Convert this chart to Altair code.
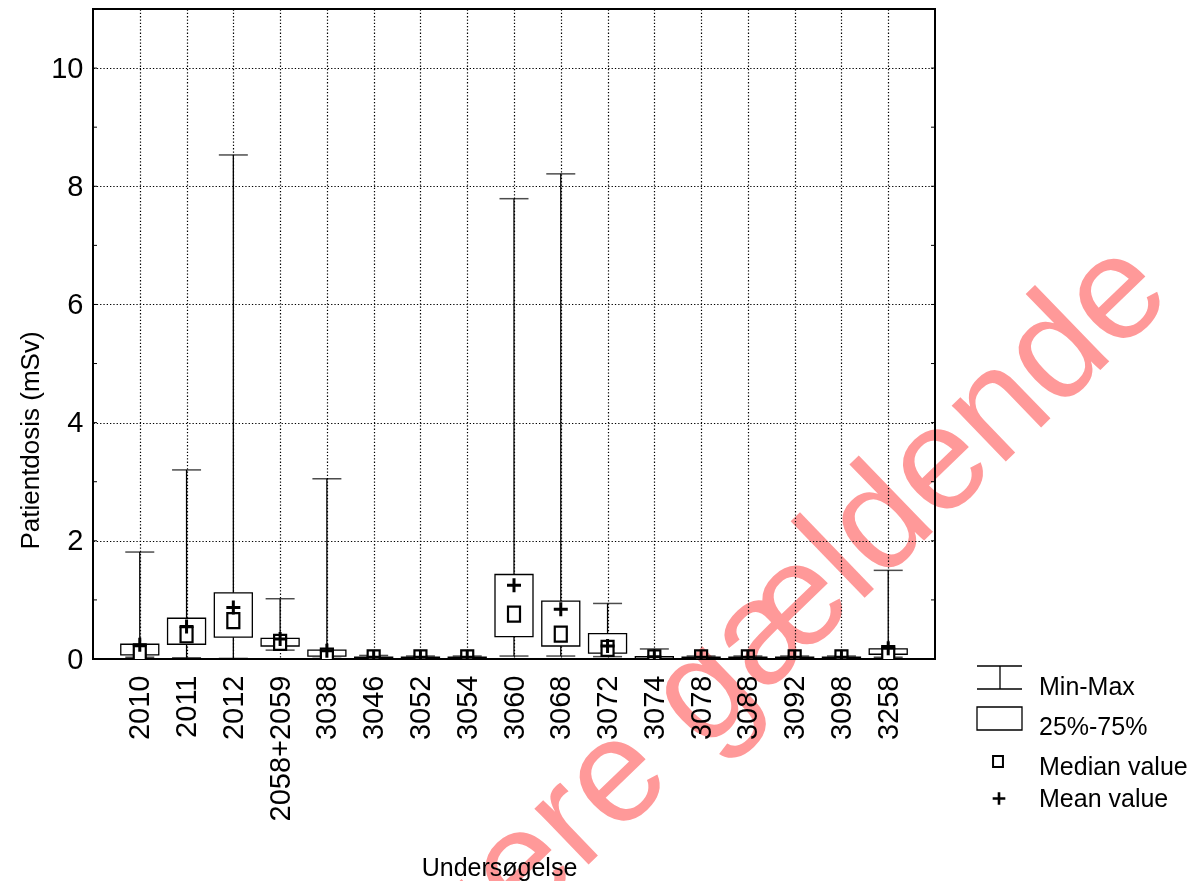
import altair as alt
import pandas as pd

categories = ["2010", "2011", "2012", "2058+2059", "3038", "3046", "3052", "3054",
              "3060", "3068", "3072", "3074", "3078", "3088", "3092", "3098", "3258"]
v_min = [0.03, 0.02, 0.01, 0.15, 0.01, 0.00, 0.00, 0.00, 0.05, 0.05, 0.04, 0.01, 0.00, 0.00, 0.00, 0.00, 0.03]
v_q1 = [0.07, 0.25, 0.37, 0.22, 0.05, 0.01, 0.01, 0.01, 0.38, 0.22, 0.10, 0.01, 0.01, 0.01, 0.01, 0.01, 0.08]
v_median = [0.09, 0.41, 0.65, 0.28, 0.05, 0.02, 0.02, 0.02, 0.76, 0.42, 0.18, 0.02, 0.02, 0.02, 0.02, 0.02, 0.09]
v_q3 = [0.25, 0.69, 1.12, 0.35, 0.15, 0.03, 0.03, 0.03, 1.43, 0.98, 0.43, 0.04, 0.03, 0.03, 0.03, 0.03, 0.17]
v_max = [1.81, 3.20, 8.53, 1.02, 3.05, 0.06, 0.05, 0.05, 7.79, 8.21, 0.94, 0.17, 0.05, 0.05, 0.05, 0.05, 1.50]
v_mean = [0.24, 0.55, 0.87, 0.34, 0.14, 0.03, 0.03, 0.03, 1.25, 0.84, 0.22, 0.04, 0.03, 0.03, 0.03, 0.03, 0.18]
y_label_values = [0, 2, 4, 6, 8, 10]
y_tick_values = [0, 1, 2, 3, 4, 5, 6, 7, 8, 9, 10, 11]
legend_labels = ["Min-Max", "25%-75%", "Median value", "Mean value"]
watermark_text = "Ikke længere gældende"

df = pd.DataFrame({"cat": categories, "vmin": v_min, "q1": v_q1, "median": v_median,
                   "q3": v_q3, "vmax": v_max, "mean": v_mean})

W, H = 842, 650
FONT = "Liberation Sans, Arial, sans-serif"

xscale = alt.Scale(type="point", padding=1, domain=categories)
yscale = alt.Scale(domain=[0, 11], nice=False, zero=False)

GRID = dict(grid=True, gridDash=[1.3, 2], gridColor="black", gridOpacity=1, gridWidth=1.2)

xaxis = alt.Axis(title="Undersøgelse", labelAngle=270, labelFontSize=29, labelFont=FONT,
                 labelColor="black", labelPadding=16, labelAlign="right", labelBaseline="middle",
                 labelOverlap=False, labelLimit=400, ticks=False, domain=False, **GRID,
                 titleFont=FONT, titleFontSize=25, titleFontWeight="normal", titleColor="black",
                 titleX=406, titleY=216, titleAlign="center", titleBaseline="alphabetic", titleAngle=0)
yaxis = alt.Axis(title="Patientdosis (mSv)", values=y_label_values, labelFontSize=29, labelFont=FONT,
                 labelColor="black", labelPadding=10, ticks=False, domain=False, **GRID,
                 titleFont=FONT, titleFontSize=26, titleFontWeight="normal", titleColor="black",
                 titleX=-55, titleY=431, titleAngle=270, titleAlign="center", titleBaseline="alphabetic")

X = alt.X("cat:N", scale=xscale, axis=xaxis, sort=categories)


def Y(field):
    return alt.Y(field + ":Q", scale=yscale, axis=yaxis)


base = alt.Chart(df)

whisker = base.mark_rule(color="black", strokeWidth=1.3).encode(x=X, y=Y("vmin"), y2="vmax:Q")
cap_max = base.mark_tick(color="black", size=29, thickness=1.5, orient="horizontal").encode(x=X, y=Y("vmax"))
cap_min = base.mark_tick(color="black", size=29, thickness=1.5, orient="horizontal").encode(x=X, y=Y("vmin"))
box = base.mark_bar(size=38, fill="white", stroke="black", strokeWidth=1.3).encode(x=X, y=Y("q1"), y2="q3:Q")
median = base.mark_point(shape="M-0.8,-1H0.8V1H-0.8Z", size=225, filled=True, fill="white",
                         stroke="black", strokeWidth=2.2, opacity=1, clip=True).encode(x=X, y=Y("median"))
mean = base.mark_point(shape="M-1,0H1M0,-1V1", size=196, filled=False, stroke="black",
                       strokeWidth=3, opacity=1, clip=True).encode(x=X, y=Y("mean"))

tick_df = pd.DataFrame({"v": y_tick_values})
ticks_left = alt.Chart(tick_df).mark_rule(color="black", strokeWidth=1).encode(
    y=Y("v"), x=alt.value(0), x2=alt.value(4))
ticks_right = alt.Chart(tick_df).mark_rule(color="black", strokeWidth=1).encode(
    y=Y("v"), x=alt.value(W - 4), x2=alt.value(W))

one = pd.DataFrame({"a": [0]})

# legend (positions relative to the plot's top-left corner)
lg = []
lg.append(alt.Chart(one).mark_rule(color="black", strokeWidth=1.3).encode(
    x=alt.value(884), x2=alt.value(929), y=alt.value(657)))
lg.append(alt.Chart(one).mark_rule(color="black", strokeWidth=1.3).encode(
    x=alt.value(884), x2=alt.value(929), y=alt.value(680)))
lg.append(alt.Chart(one).mark_rule(color="black", strokeWidth=1.3).encode(
    x=alt.value(907), y=alt.value(657), y2=alt.value(680)))
lg.append(alt.Chart(one).mark_rect(fill="white", stroke="black", strokeWidth=1.3).encode(
    x=alt.value(884), x2=alt.value(929), y=alt.value(698), y2=alt.value(721)))
lg.append(alt.Chart(one).mark_point(shape="M-0.9,-1H0.9V1H-0.9Z", size=121, filled=True, fill="white",
                                    stroke="black", strokeWidth=2, opacity=1).encode(
    x=alt.value(905), y=alt.value(752.5)))
lg.append(alt.Chart(one).mark_point(shape="M-1,0H1M0,-1V1", size=160, filled=False, stroke="black",
                                    strokeWidth=2.6, opacity=1).encode(
    x=alt.value(906), y=alt.value(789.5)))
for label, yb in zip(legend_labels, [686, 726, 766, 798]):
    lg.append(alt.Chart(one).mark_text(text=label, font=FONT, fontSize=25, color="black",
                                       align="left", baseline="alphabetic").encode(
        x=alt.value(946), y=alt.value(yb)))

wm = alt.Chart(one).mark_text(text=watermark_text, font=FONT, fontSize=147, color="#ff9999",
                              angle=316, align="right", baseline="alphabetic", blend="multiply").encode(
    x=alt.value(1082), y=alt.value(289))

chart = alt.layer(whisker, cap_min, cap_max, box, median, mean, ticks_left, ticks_right, *lg, wm).properties(
    width=W, height=H,
    background="white",
    autosize=alt.AutoSizeParams(type="none"),
    padding={"left": 85, "top": 1, "right": 256, "bottom": 222},
).configure_view(stroke="black", strokeWidth=2)

chart.save("out.html", embed_options={"renderer": "svg", "actions": False})
